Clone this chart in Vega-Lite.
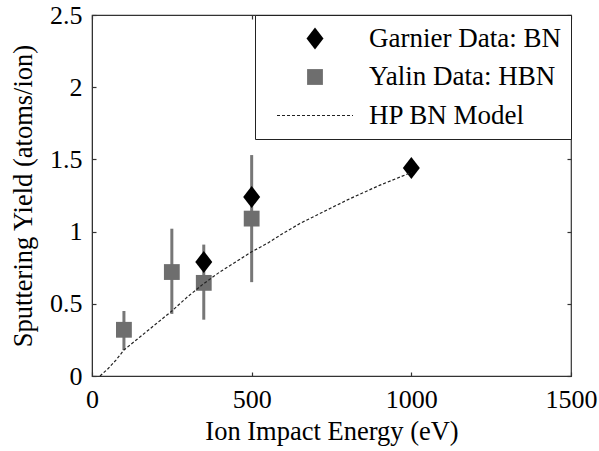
{
  "$schema": "https://vega.github.io/schema/vega-lite/v6.json",
  "width": 479,
  "height": 361,
  "autosize": {"type": "none"},
  "padding": {"left": 92, "top": 15, "right": 28, "bottom": 75},
  "background": "white",
  "datasets": {
    "model": [
      {"energy": 25, "yield": 0},
      {"energy": 50, "yield": 0.05},
      {"energy": 75, "yield": 0.11},
      {"energy": 100, "yield": 0.18},
      {"energy": 150, "yield": 0.27},
      {"energy": 200, "yield": 0.36},
      {"energy": 250, "yield": 0.45},
      {"energy": 300, "yield": 0.55},
      {"energy": 350, "yield": 0.64},
      {"energy": 400, "yield": 0.72},
      {"energy": 450, "yield": 0.79},
      {"energy": 500, "yield": 0.86},
      {"energy": 550, "yield": 0.92},
      {"energy": 600, "yield": 0.99},
      {"energy": 650, "yield": 1.055},
      {"energy": 700, "yield": 1.11},
      {"energy": 800, "yield": 1.22},
      {"energy": 900, "yield": 1.32},
      {"energy": 1000, "yield": 1.41}
    ],
    "yalin": [
      {"series": "Yalin Data: HBN", "energy": 100, "yield": 0.32, "lo": 0.18, "hi": 0.45},
      {"series": "Yalin Data: HBN", "energy": 250, "yield": 0.72, "lo": 0.43, "hi": 1.02},
      {"series": "Yalin Data: HBN", "energy": 350, "yield": 0.645, "lo": 0.39, "hi": 0.91},
      {"series": "Yalin Data: HBN", "energy": 500, "yield": 1.09, "lo": 0.65, "hi": 1.53}
    ],
    "garnier": [
      {"series": "Garnier Data: BN", "energy": 350, "yield": 0.79},
      {"series": "Garnier Data: BN", "energy": 500, "yield": 1.24},
      {"series": "Garnier Data: BN", "energy": 1000, "yield": 1.44}
    ]
  },
  "resolve": {"axis": {"x": "independent", "y": "independent"}},
  "layer": [
    {
      "data": {"name": "model"},
      "mark": {"type": "point", "opacity": 0},
      "encoding": {
        "x": {"field": "energy", "type": "quantitative",
          "scale": {"domain": [0, 1500], "nice": false, "zero": false},
          "axis": {"values": [0, 500, 1000, 1500], "title": "Ion Impact Energy (eV)", "labelExpr": "'' + datum.value", "labelFlush": false, "labelPadding": 14, "titlePadding": 6}},
        "y": {"field": "yield", "type": "quantitative",
          "scale": {"domain": [0, 2.5], "nice": false, "zero": false},
          "axis": {"values": [0, 0.5, 1, 1.5, 2, 2.5], "title": "Sputtering Yield (atoms/ion)", "labelExpr": "'' + datum.value", "labelFlush": false, "labelPadding": 14, "titlePadding": 12}}
      }
    },
    {
      "data": {"name": "model"},
      "mark": {"type": "point", "opacity": 0},
      "encoding": {
        "x": {"field": "energy", "type": "quantitative",
          "axis": {"orient": "top", "values": [0, 500, 1000, 1500], "labels": false, "title": null, "domain": false}},
        "y": {"field": "yield", "type": "quantitative",
          "axis": {"orient": "right", "values": [0, 0.5, 1, 1.5, 2, 2.5], "labels": false, "title": null, "domain": false}}
      }
    },
    {
      "data": {"name": "yalin"},
      "mark": {"type": "rule", "color": "#777777", "strokeWidth": 3},
      "encoding": {
        "x": {"field": "energy", "type": "quantitative", "axis": null},
        "y": {"field": "lo", "type": "quantitative", "axis": null},
        "y2": {"field": "hi"}
      }
    },
    {
      "data": {"name": "yalin"},
      "mark": {"type": "point", "filled": true, "opacity": 1},
      "encoding": {
        "x": {"field": "energy", "type": "quantitative", "axis": null},
        "y": {"field": "yield", "type": "quantitative", "axis": null},
        "color": {"field": "series", "type": "nominal", "title": null,
          "scale": {"domain": ["Garnier Data: BN", "Yalin Data: HBN", "HP BN Model"], "range": ["#000000", "#6e6e6e", "#222222"]},
          "legend": {"encode": {"symbols": {"update": {
            "stroke": {"signal": "datum.value === 'HP BN Model' ? '#222222' : 'transparent'"},
            "strokeDash": {"signal": "datum.value === 'HP BN Model' ? [3, 2] : [1, 0]"}
          }}}}},
        "shape": {"field": "series", "type": "nominal", "title": null,
          "scale": {"domain": ["Garnier Data: BN", "Yalin Data: HBN", "HP BN Model"], "range": ["M0,-1.1L0.85,0L0,1.1L-0.85,0Z", "square", "M-7.6,0L7.6,0"]}},
        "size": {"field": "series", "type": "nominal", "title": null,
          "scale": {"domain": ["Garnier Data: BN", "Yalin Data: HBN", "HP BN Model"], "range": [400, 100], "padding": 0}}
      }
    },
    {
      "data": {"name": "garnier"},
      "mark": {"type": "point", "filled": true, "opacity": 1},
      "encoding": {
        "x": {"field": "energy", "type": "quantitative", "axis": null},
        "y": {"field": "yield", "type": "quantitative", "axis": null},
        "color": {"field": "series", "type": "nominal", "title": null},
        "shape": {"field": "series", "type": "nominal", "title": null},
        "size": {"field": "series", "type": "nominal", "title": null}
      }
    },
    {
      "data": {"name": "model"},
      "mark": {"type": "line", "color": "#222222", "strokeWidth": 1.2, "strokeDash": [3, 2]},
      "encoding": {
        "x": {"field": "energy", "type": "quantitative", "axis": null},
        "y": {"field": "yield", "type": "quantitative", "axis": null}
      }
    }
  ],
  "config": {
    "font": "Liberation Serif",
    "view": {"stroke": "#333333", "strokeWidth": 1.2},
    "axis": {
      "grid": false,
      "labelFont": "Liberation Serif",
      "labelFontSize": 26,
      "labelColor": "#000000",
      "titleFont": "Liberation Serif",
      "titleFontSize": 26.5,
      "titleFontWeight": "normal",
      "titleColor": "#000000",
      "tickSize": -4,
      "tickColor": "#333333",
      "tickWidth": 1.2,
      "domainColor": "#333333",
      "labelBound": false,
      "labelOverlap": false
    },
    "legend": {
      "orient": "top-right",
      "offset": 0,
      "padding": 10,
      "strokeColor": "#222222",
      "fillColor": "#ffffff",
      "cornerRadius": 0,
      "labelFont": "Liberation Serif",
      "labelFontSize": 27,
      "labelColor": "#000000",
      "labelLimit": 0,
      "rowPadding": 10.5,
      "symbolOffset": 36.5,
      "labelOffset": 40.5,
      "symbolStrokeWidth": 1.2,
      "symbolOpacity": 1
    }
  }
}
